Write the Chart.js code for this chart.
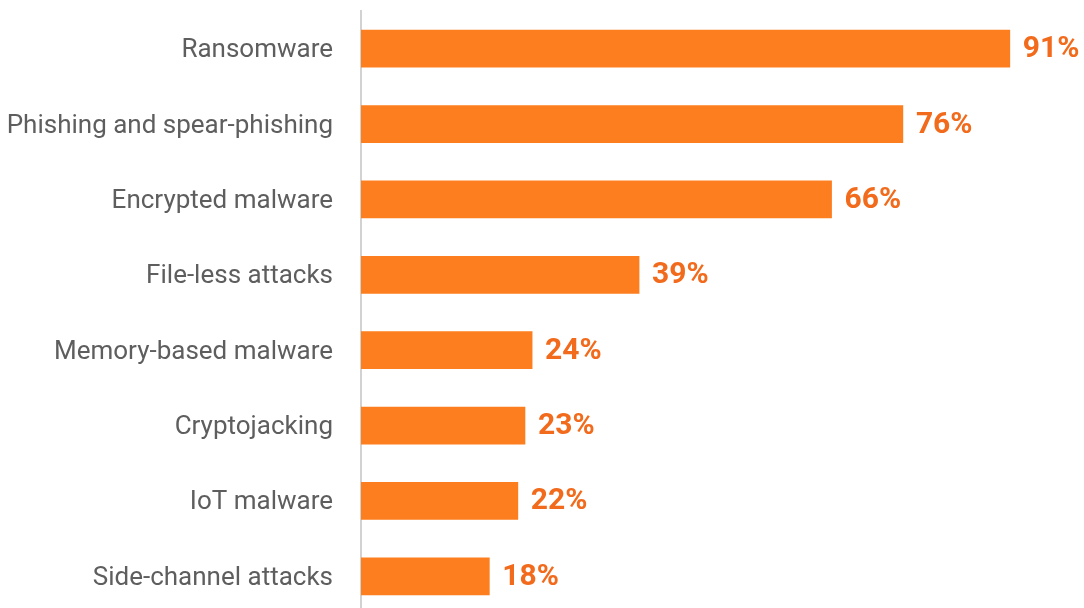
<!DOCTYPE html>
<html>
<head>
<meta charset="utf-8">
<script src="https://cdn.jsdelivr.net/npm/chart.js@4.4.0/dist/chart.umd.min.js"></script>
<style>
    html, body { margin: 0; padding: 0; background: #fff; overflow: hidden; }
    .wrap { width: 1084px; height: 620px; position: relative; }
</style>
</head>
<body>
<div class="wrap"><canvas id="barChart"></canvas></div>
<script>
const categories = ['Ransomware', 'Phishing and spear-phishing', 'Encrypted malware', 'File-less attacks',
    'Memory-based malware', 'Cryptojacking', 'IoT malware', 'Side-channel attacks'];
const shares = [91, 76, 66, 39, 24, 23, 22, 18];

const barColor = '#FD7E1F';
const valueColor = '#F26A1B';

// draws the "91%" style labels past each bar end
const valueLabels = {
    id: 'valueLabels',
    afterDatasetsDraw(chart) {
        const ctx = chart.ctx;
        const meta = chart.getDatasetMeta(0);
        ctx.save();
        ctx.font = 'bold 30px Roboto';
        ctx.fillStyle = valueColor;
        ctx.textAlign = 'left';
        ctx.textBaseline = 'middle';
        meta.data.forEach((bar, i) => {
            ctx.fillText(shares[i] + '%', bar.x + 13, bar.y + 1);
        });
        ctx.restore();
    }
};

const barCtx = document.getElementById('barChart').getContext('2d');
const barChart = new Chart(barCtx, {
    type: 'bar',
    data: {
        labels: categories,
        datasets: [
            {
                data: shares,
                backgroundColor: barColor,
                borderWidth: 0,
                barThickness: 37,
            }
        ]
    },
    options: {
        indexAxis: 'y',
        responsive: true,
        maintainAspectRatio: false,
        animation: false,
        scales: {
            x: {
                display: false,
                min: 0,
                max: 100,
            },
            y: {
                grid: { display: false },
                border: { display: true, color: '#d2d2d2', width: 2 },
                ticks: {
                    color: '#5e5e5e',
                    padding: 20,
                    labelOffset: 2,
                    font: {
                        family: 'Roboto',
                        size: 26,
                    }
                },
                afterFit(scale) {
                    scale.width = 361;
                    scale.paddingTop = 0;
                    scale.paddingBottom = 0;
                }
            }
        },
        plugins: {
            legend: { display: false },
            tooltip: { enabled: false },
        },
        layout: {
            padding: {
                left: 0,
                right: 10,
                top: 11,
                bottom: 6
            }
        }
    },
    plugins: [valueLabels]
});
</script>
</body>
</html>
